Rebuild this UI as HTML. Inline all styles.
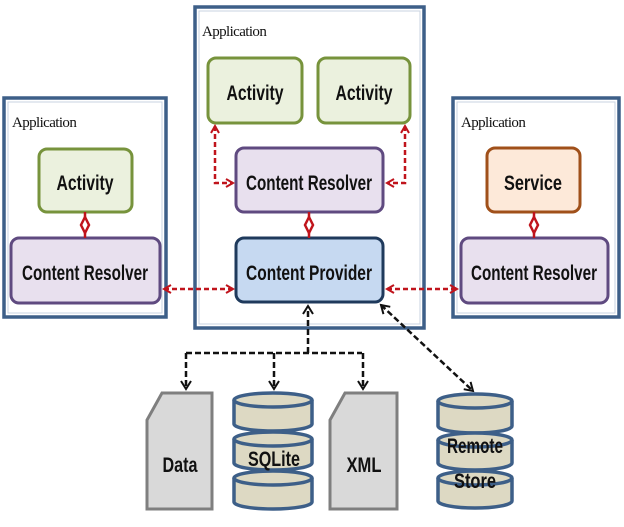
<!DOCTYPE html>
<html><head><meta charset="utf-8"><style>
html,body{margin:0;padding:0;background:#fff;width:624px;height:527px;overflow:hidden}
.t{font-family:"Liberation Sans",sans-serif;font-weight:bold;font-size:21px;fill:#111;text-anchor:middle}
.a{font-family:"Liberation Serif",serif;font-size:15px;fill:#111;letter-spacing:-0.6px}
</style></head><body>
<svg width="624" height="527" viewBox="0 0 624 527" xmlns="http://www.w3.org/2000/svg">
<defs>
<marker id="ra" markerWidth="10" markerHeight="10" refX="8" refY="5" orient="auto-start-reverse" markerUnits="userSpaceOnUse"><path d="M1,1 L8,5 L1,9" fill="none" stroke="#c0141c" stroke-width="2"/></marker>
<marker id="ka" markerWidth="12" markerHeight="12" refX="9" refY="6" orient="auto-start-reverse" markerUnits="userSpaceOnUse"><path d="M1,1 L9,6 L1,11" fill="none" stroke="#111" stroke-width="2"/></marker>
</defs>
<g fill="#fff" stroke="#3d5f88" stroke-width="3.5">
<rect x="4" y="98" width="162" height="219"/>
<rect x="195" y="7" width="229" height="321"/>
<rect x="453" y="98" width="166" height="219"/>
</g>
<g fill="none" stroke="#c9d3e0" stroke-width="1">
<rect x="8" y="102" width="154" height="211"/>
<rect x="199" y="11" width="221" height="313"/>
<rect x="457" y="102" width="158" height="211"/>
</g>
<text class="a" x="12" y="127">Application</text>
<text class="a" x="202" y="36">Application</text>
<text class="a" x="461" y="127">Application</text>
<g stroke-width="3">
<rect x="39" y="149" width="93" height="63" rx="8" fill="#ebf1de" stroke="#77933c"/>
<rect x="208" y="58" width="94" height="65" rx="8" fill="#ebf1de" stroke="#77933c"/>
<rect x="318" y="58" width="92" height="65" rx="8" fill="#ebf1de" stroke="#77933c"/>
<rect x="487" y="148" width="93" height="64" rx="8" fill="#fde9d9" stroke="#a0501a"/>
<rect x="11" y="238" width="149" height="65" rx="8" fill="#e8e0ee" stroke="#5f4a80"/>
<rect x="236" y="148" width="147" height="64" rx="8" fill="#e8e0ee" stroke="#5f4a80"/>
<rect x="461" y="238" width="147" height="65" rx="8" fill="#e8e0ee" stroke="#5f4a80"/>
<rect x="236" y="238" width="147" height="64" rx="8" fill="#c6d9f1" stroke="#1f3a5c"/>
</g>
<text class="t" x="85" y="190" textLength="57" lengthAdjust="spacingAndGlyphs">Activity</text>
<text class="t" x="255" y="100" textLength="57" lengthAdjust="spacingAndGlyphs">Activity</text>
<text class="t" x="364" y="100" textLength="57" lengthAdjust="spacingAndGlyphs">Activity</text>
<text class="t" x="533" y="190" textLength="58" lengthAdjust="spacingAndGlyphs">Service</text>
<text class="t" x="85" y="280" textLength="126" lengthAdjust="spacingAndGlyphs">Content Resolver</text>
<text class="t" x="309" y="190" textLength="126" lengthAdjust="spacingAndGlyphs">Content Resolver</text>
<text class="t" x="534" y="280" textLength="126" lengthAdjust="spacingAndGlyphs">Content Resolver</text>
<text class="t" x="309" y="280" textLength="126" lengthAdjust="spacingAndGlyphs">Content Provider</text>
<g stroke="#c0141c" stroke-width="2.5" fill="none" stroke-dasharray="5,3">
<line x1="164" y1="289" x2="233" y2="289" marker-start="url(#ra)" marker-end="url(#ra)"/>
<line x1="387" y1="289" x2="457" y2="289" marker-start="url(#ra)" marker-end="url(#ra)"/>
<polyline points="215,126 215,183 233,183" marker-start="url(#ra)" marker-end="url(#ra)"/>
<polyline points="405,126 405,183 387,183" marker-start="url(#ra)" marker-end="url(#ra)"/>
</g>
<g stroke="#c0141c" stroke-width="2.5" fill="none">
<line x1="85" y1="212" x2="85" y2="238"/><line x1="309" y1="212" x2="309" y2="238"/><line x1="534" y1="212" x2="534" y2="238"/>
<path d="M85,217 L89,225 L85,233 L81,225Z M309,217 L313,225 L309,233 L305,225Z M534,217 L538,225 L534,233 L530,225Z" fill="#fff"/>
</g>
<g stroke="#111" stroke-width="2.5" fill="none" stroke-dasharray="6,3">
<line x1="308" y1="353" x2="308" y2="306" marker-end="url(#ka)"/>
<polyline points="186,353 362,353"/>
<line x1="186" y1="353" x2="186" y2="389" marker-end="url(#ka)"/>
<line x1="274" y1="353" x2="274" y2="389" marker-end="url(#ka)"/>
<line x1="363" y1="353" x2="363" y2="389" marker-end="url(#ka)"/>
<line x1="381" y1="305" x2="473" y2="391" marker-start="url(#ka)" marker-end="url(#ka)"/>
</g>
<g fill="#d9d9d9" stroke="#7f7f7f" stroke-width="3">
<path d="M162,393 L212,393 L212,509 L147,509 L147,420 Z"/>
<path d="M345,393 L397,393 L397,509 L330,509 L330,420 Z"/>
</g>
<g fill="#ddd9c3" stroke="#3d5f88" stroke-width="3.5">
<path d="M234,400 V424 A39,7 0 0 0 312,424 V400"/><ellipse cx="273" cy="400" rx="39" ry="7"/>
<path d="M234,439 V463 A39,7 0 0 0 312,463 V439"/><ellipse cx="273" cy="439" rx="39" ry="7"/>
<path d="M234,478 V502 A39,7 0 0 0 312,502 V478"/><ellipse cx="273" cy="478" rx="39" ry="7"/>
</g>
<g fill="#ddd9c3" stroke="#3d5f88" stroke-width="3.5">
<path d="M438,401 V426 A37,7 0 0 0 512,426 V401"/><ellipse cx="475" cy="401" rx="37" ry="7"/>
<path d="M438,440 V463 A37,7 0 0 0 512,463 V440"/><ellipse cx="475" cy="440" rx="37" ry="7"/>
<path d="M438,478 V501 A37,7 0 0 0 512,501 V478"/><ellipse cx="475" cy="478" rx="37" ry="7"/>
</g>
<text class="t" x="180" y="472" textLength="35" lengthAdjust="spacingAndGlyphs">Data</text>
<text class="t" x="274" y="466" textLength="52" lengthAdjust="spacingAndGlyphs">SQLite</text>
<text class="t" x="364" y="472" textLength="35" lengthAdjust="spacingAndGlyphs">XML</text>
<text class="t" x="475" y="453" textLength="56" lengthAdjust="spacingAndGlyphs">Remote</text>
<text class="t" x="475" y="488" textLength="42" lengthAdjust="spacingAndGlyphs">Store</text>
</svg>
</body></html>
